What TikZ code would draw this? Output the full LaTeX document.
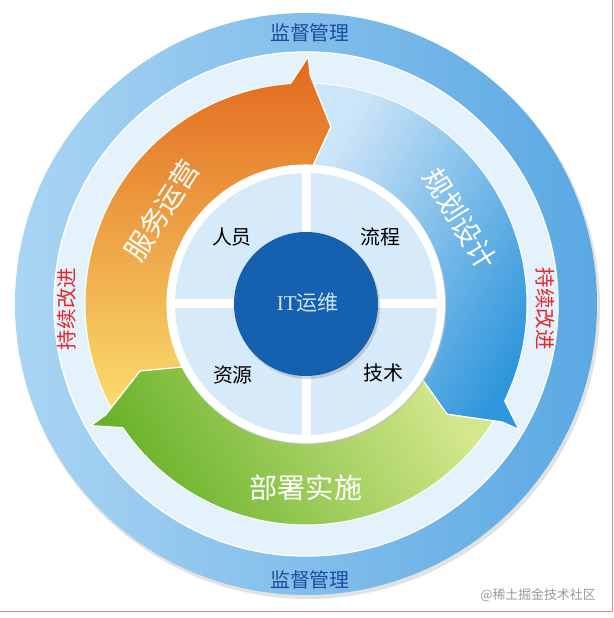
\documentclass[tikz,border=0pt]{standalone}
\usepackage{fontspec}
\newfontfamily\cjk{Noto Sans CJK SC}
\newfontfamily\serifit{Liberation Serif}
\usetikzlibrary{calc}
\definecolor{ringblue}{HTML}{5AA8E3}
\definecolor{ringlight}{HTML}{AAD5F3}
\definecolor{palering}{HTML}{E4F2FC}
\definecolor{opsdark}{HTML}{E2681D}
\definecolor{opsmid}{HTML}{EC8F2E}
\definecolor{opslight}{HTML}{F9DC6E}
\definecolor{plandark}{HTML}{2F96DB}
\definecolor{planmid}{HTML}{62ACE5}
\definecolor{planlight}{HTML}{CDE5F8}
\definecolor{depdark}{HTML}{66B128}
\definecolor{depmid}{HTML}{7DBB34}
\definecolor{deplight}{HTML}{D3E78C}
\definecolor{quadblue}{HTML}{D6EAF9}
\definecolor{coreblue}{HTML}{1660B0}
\definecolor{coretext}{HTML}{CFE3F6}
\definecolor{mondark}{HTML}{1F4C9E}
\definecolor{impred}{HTML}{E5262B}
\definecolor{framered}{HTML}{E08A8A}
\tikzset{
  arrowedge/.style={draw=white,line width=0.9pt},
  quadlabel/.style={font=\cjk\fontsize{17}{17}\selectfont,text=black},
  steplabel/.style={font=\cjk\fontsize{24}{24}\selectfont,text=white},
  monlabel/.style={font=\cjk\fontsize{17}{17}\selectfont,text=mondark},
  implabel/.style={font=\cjk\fontsize{17.5}{17.5}\selectfont,text=impred},
  corelabel/.style={font=\fontsize{18}{18}\selectfont,text=coretext},
  marklabel/.style={font=\cjk\fontsize{11}{11}\selectfont,text=black!40}
}

\begin{document}
\begin{tikzpicture}[x=0.03cm,y=0.03cm]
\useasboundingbox (-306,-314) rectangle (307,304);
\fill[white] (-306,-314) rectangle (307,304);
\draw[framered,line width=0.6pt] (306,304) -- (306,-307) -- (-306,-307);

% outer ring
\fill[black!25,opacity=0.45] (2,-3) circle (292);
\path[left color=ringlight,right color=ringblue] (0,0) circle (291);
\fill[palering] (0,0) circle (252);
\draw[white,line width=1.2pt] (0,0) circle (252);

% three arrows, head dark and tail light
\foreach \rot/\dark/\mid/\light in {0/opsdark/opsmid/opslight,-120/plandark/planmid/planlight,120/depdark/depmid/deplight}{
  \path[arrowedge,rotate=\rot,top color=\dark,middle color=\mid,bottom color=\light,shading angle=\rot]
    (202:179) -- (208:221) arc[start angle=208,end angle=94,radius=221]
    -- (89.5:247) -- (89:229) -- (82:179) -- (87:139)
    arc[start angle=87,end angle=207,radius=139] -- cycle;
}

% hub
\fill[black!25,opacity=0.4] (1.5,-2.5) circle (139);
\fill[white] (0,0) circle (139);
\foreach \sx/\sy in {1/1,-1/1,-1/-1,1/-1}{
  \begin{scope}
    \clip (0,0) circle (131);
    \fill[quadblue] (4.5*\sx,4.5*\sy) rectangle (140*\sx,140*\sy);
  \end{scope}
}
\fill[black!40,opacity=0.4] (2,-3) circle (72);
\fill[coreblue] (0,0) circle (72);

\node[corelabel] (core) at (2,1) {{\serifit IT}{\cjk 运维}};
\node[quadlabel] (people) at (-74,67) {人员};
\node[quadlabel] (process) at (74,67) {流程};
\node[quadlabel] (resource) at (-73,-71) {资源};
\node[quadlabel] (tech) at (77,-69) {技术};

\node[steplabel,rotate=57] (ops) at (147:172) {服务运营};
\node[steplabel,rotate=-58] (plan) at (29:176) {规划设计};
\node[steplabel] (deploy) at (0,-184) {部署实施};

\node[monlabel] (mon-top) at (4,271) {监督管理};
\node[monlabel] (mon-bot) at (4,-276) {监督管理};
\node[implabel,rotate=90] (imp-left) at (-239,-5) {持续改进};
\node[implabel,rotate=-90] (imp-right) at (239,-5) {持续改进};

\node[marklabel] (mark) at (232,-291) {@稀土掘金技术社区};
\end{tikzpicture}
\end{document}
